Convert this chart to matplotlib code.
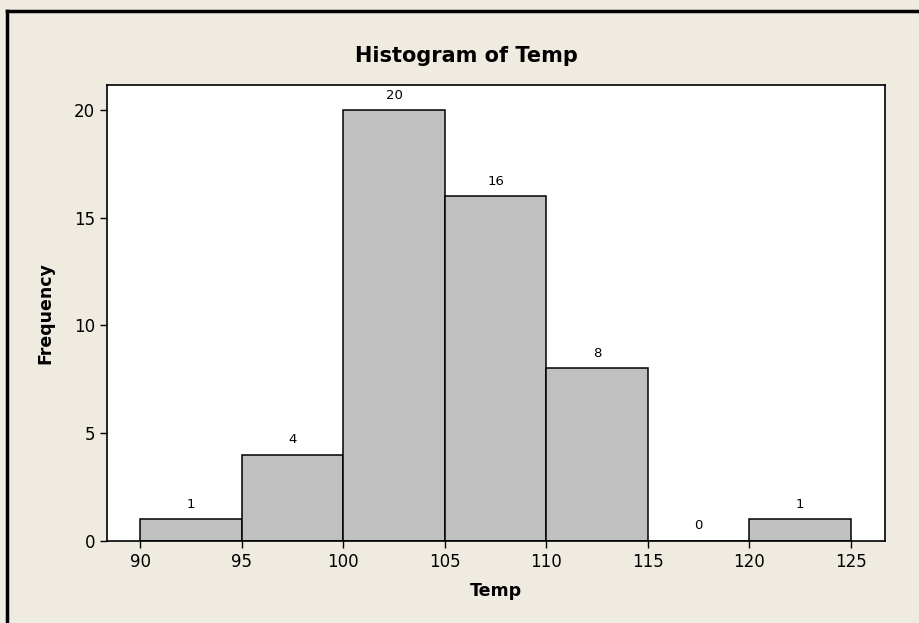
import matplotlib
matplotlib.use("Agg")
import matplotlib.pyplot as plt

# Гистограмма температуры: границы интервалов и частоты
bin_edges = [90, 95, 100, 105, 110, 115, 120, 125]
counts = [1, 4, 20, 16, 8, 0, 1]
x_ticks = [90, 95, 100, 105, 110, 115, 120, 125]
y_ticks = [0, 5, 10, 15, 20]

bg = '#EFEBE1'

fig = plt.figure(figsize=(9.19, 6.23), dpi=100, facecolor=bg)
ax = fig.add_axes([0.1161, 0.1321, 0.963 - 0.1161, 0.8636 - 0.1321])

lefts = bin_edges[:-1]
widths = [b - a for a, b in zip(bin_edges[:-1], bin_edges[1:])]
ax.bar(lefts, counts, width=widths, align='edge', color='#C0C0C0',
       edgecolor='black', linewidth=1.1)

for x0, w, c in zip(lefts, widths, counts):
    ax.annotate(str(c), (x0 + w / 2, c), xytext=(0, 6), textcoords='offset points',
                ha='center', va='bottom', fontsize=9.5)

ax.set_xlim(88.36, 126.67)
ax.set_ylim(0, 21.16)
ax.set_xticks(x_ticks)
ax.set_yticks(y_ticks)
ax.tick_params(labelsize=12, length=5, width=1)
for s in ax.spines.values():
    s.set_linewidth(1.2)

ax.set_xlabel('Temp', fontsize=12.5, fontweight='bold', labelpad=8)
ax.set_ylabel('Frequency', fontsize=12.5, fontweight='bold', labelpad=14)
fig.text(466 / 919, 1 - 56 / 623, 'Histogram of Temp', ha='center', va='center',
         fontsize=15, fontweight='bold')

# рамка сверху и слева
fig.add_artist(plt.Line2D([7 / 919, 1], [1 - 10.5 / 623, 1 - 10.5 / 623],
                          color='black', linewidth=2.5, transform=fig.transFigure))
fig.add_artist(plt.Line2D([7 / 919, 7 / 919], [0, 1 - 10.5 / 623],
                          color='black', linewidth=2.5, transform=fig.transFigure))

fig.savefig('out.png', dpi=100, facecolor=bg)
